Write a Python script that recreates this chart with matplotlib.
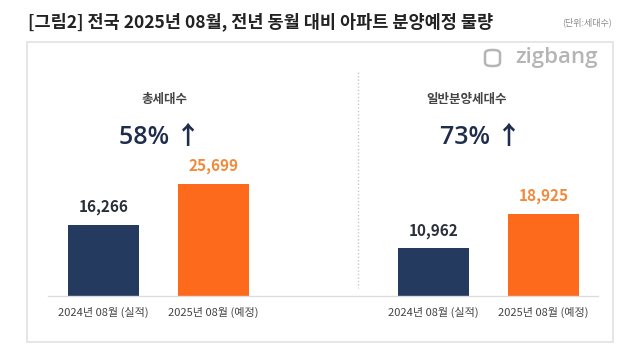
import matplotlib
matplotlib.use("Agg")
import matplotlib.pyplot as plt
from matplotlib.patches import Rectangle, FancyBboxPatch

plt.rcParams['font.family'] = ['Noto Sans CJK KR', 'DejaVu Sans']

title = "[그림2] 전국 2025년 08월, 전년 동월 대비 아파트 분양예정 물량"
unit = "(단위:세대수)"
panels = ["총세대수", "일반분양세대수"]
changes = ["58% ↑", "73% ↑"]
categories = ["2024년 08월 (실적)", "2025년 08월 (예정)",
              "2024년 08월 (실적)", "2025년 08월 (예정)"]
values = [16266, 25699, 10962, 18925]
positions = [0, 1, 3, 4]

navy = "#243a5e"
orange = "#fd6a1c"
bar_colors = [navy, orange, navy, orange]
label_colors = ["#2b2f3a", "#f08a3c", "#2b2f3a", "#f08a3c"]

W, H = 640, 360
fig = plt.figure(figsize=(6.4, 3.6), dpi=100)
fig.patch.set_facecolor("white")

def fx(px):
    return px / W

def fy(py):
    return 1 - py / H

# outer box
fig.patches.append(Rectangle((fx(27), fy(342)), fx(613) - fx(27), fy(42) - fy(342),
                             transform=fig.transFigure, fill=False,
                             edgecolor="#e2e2e2", lw=1.2))

# title and unit
fig.text(fx(28), fy(22), title, fontsize=12.6, fontweight="bold", color="#222222",
         va="center", ha="left")
fig.text(fx(612), fy(22), unit, fontsize=6.5, color="#8a8a8a", va="center", ha="right")

# logo
fig.text(fx(598), fy(57), "zigbang", fontsize=16, color="#b5b5b5", va="center",
         ha="right", family=["Open Sans", "DejaVu Sans"], fontweight="semibold")
fig.patches.append(FancyBboxPatch((fx(485), fy(66)), fx(15), fy(50) - fy(66),
                                  boxstyle="round,pad=0,rounding_size=0.01",
                                  transform=fig.transFigure, fill=False,
                                  edgecolor="#b5b5b5", lw=1.8))

# axes
ax_left, ax_right = 48, 598
ax_bottom, ax_top = 296, 61
ax = fig.add_axes([fx(ax_left), fy(ax_bottom), fx(ax_right) - fx(ax_left),
                   fy(ax_top) - fy(ax_bottom)])
ax.set_xlim(-0.505, 4.495)
ax.set_ylim(0, 54000)
bars = ax.bar(positions, values, width=0.65, color=bar_colors)
for p, v, c in zip(positions, values, label_colors):
    ax.annotate(f"{v:,}", (p, v), xytext=(0, 7), textcoords="offset points",
                ha="center", va="bottom", fontsize=11, fontweight="bold", color=c)
ax.set_xticks(positions)
ax.set_xticklabels(categories, fontsize=8, color="#444444")
ax.tick_params(axis="x", length=0, pad=8)
ax.set_yticks([])
for s in ["top", "left", "right"]:
    ax.spines[s].set_visible(False)
ax.spines["bottom"].set_color("#dcdcdc")
ax.spines["bottom"].set_linewidth(1)
ax.patch.set_alpha(0)

# divider
fig.add_artist(plt.Line2D([fx(358), fx(358)], [fy(72), fy(288)], transform=fig.transFigure,
                          color="#c8c8c8", lw=1, linestyle=(0, (1, 1.5))))

# panel headings
fig.text(fx(165), fy(99), panels[0], fontsize=9, color="#444444", ha="center", va="center",
         fontweight="bold")
fig.text(fx(467), fy(99), panels[1], fontsize=9, color="#444444", ha="center", va="center",
         fontweight="bold")
pct_family = ["Open Sans", "Noto Sans CJK KR", "DejaVu Sans"]
fig.text(fx(160), fy(137), changes[0], fontsize=18, color="#1f2d4d", ha="center", va="center",
         fontweight="semibold", family=pct_family)
fig.text(fx(481), fy(137), changes[1], fontsize=18, color="#1f2d4d", ha="center", va="center",
         fontweight="semibold", family=pct_family)

fig.savefig("out.png", dpi=100, facecolor="white")
